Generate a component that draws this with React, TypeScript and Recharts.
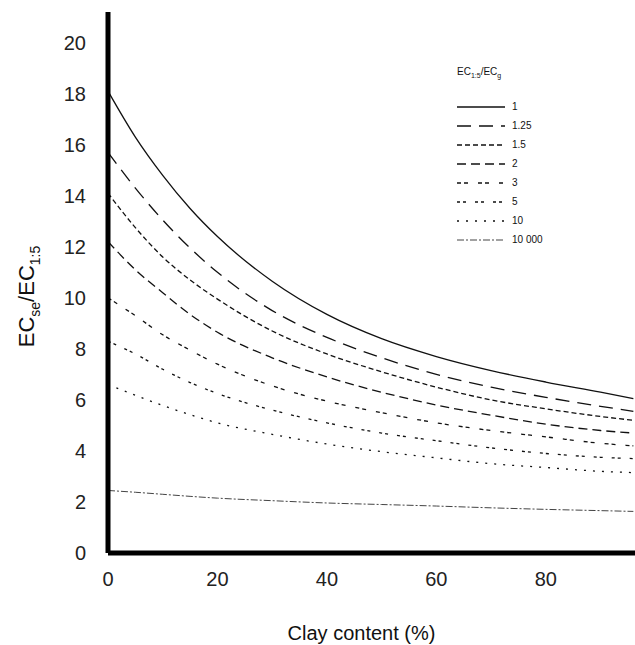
import { LineChart, Line, XAxis, YAxis } from "recharts"

// clay content (%) at which the curves were read
const clay = [0, 5, 10, 15, 20, 30, 40, 50, 60, 70, 80, 90, 96]

// one curve per EC1:5/ECg ratio
const ratioLabels = ["1", "1.25", "1.5", "2", "3", "5", "10", "10 000"]
const r1 = [18.1, 16.3, 14.8, 13.5, 12.4, 10.65, 9.35, 8.4, 7.7, 7.15, 6.7, 6.3, 6.05]
const r125 = [15.7, 14.3, 13.05, 11.95, 11.0, 9.5, 8.45, 7.65, 7.0, 6.5, 6.1, 5.75, 5.55]
const r15 = [14.1, 12.75, 11.6, 10.7, 9.95, 8.7, 7.8, 7.1, 6.5, 6.0, 5.65, 5.35, 5.2]
const r2 = [12.2, 11.1, 10.2, 9.35, 8.65, 7.65, 6.9, 6.3, 5.8, 5.4, 5.05, 4.8, 4.7]
const r3 = [10.0, 9.3, 8.55, 7.95, 7.4, 6.55, 5.95, 5.5, 5.1, 4.8, 4.55, 4.3, 4.2]
const r5 = [8.3, 7.8, 7.2, 6.68, 6.25, 5.6, 5.1, 4.7, 4.4, 4.12, 3.9, 3.75, 3.7]
const r10 = [6.6, 6.18, 5.78, 5.42, 5.1, 4.65, 4.27, 3.97, 3.73, 3.5, 3.35, 3.2, 3.15]
const r10000 = [2.45, 2.38, 2.3, 2.22, 2.15, 2.05, 1.96, 1.9, 1.84, 1.77, 1.71, 1.66, 1.63]

const xTicks = [0, 20, 40, 60, 80]
const yTicks = [0, 2, 4, 6, 8, 10, 12, 14, 16, 18, 20]

const seriesValues = [r1, r125, r15, r2, r3, r5, r10, r10000]
const keys = ["r1", "r125", "r15", "r2", "r3", "r5", "r10", "r10000"]
const dashes = ["", "14 8", "5 3", "9 5", "4 3 4 10", "3 3 3 9", "2 7", "7 2 2 2"]

const data = clay.map((c, i) => {
    const row: Record<string, number> = { clay: c }
    keys.forEach((k, j) => { row[k] = seriesValues[j][i] })
    return row
})

const FONT = "'Liberation Sans', Arial, sans-serif"

const YLabel = ({ viewBox }: any) => {
    const cx = 34
    const cy = viewBox.y + viewBox.height / 2 + 14
    return (
        <text transform={`translate(${cx},${cy}) rotate(-90)`} textAnchor="middle" fontFamily={FONT} fontSize={22} fill="#111">
            EC<tspan fontSize={14} dy={6}>se</tspan><tspan dy={-6}>/EC</tspan><tspan fontSize={14} dy={6}>1:5</tspan>
        </text>
    )
}

const XLabel = ({ viewBox }: any) => (
    <text x={viewBox.x + viewBox.width / 2 - 10} y={viewBox.y + 87} textAnchor="middle" fontFamily={FONT} fontSize={20} fill="#111">
        Clay content (%)
    </text>
)

const RatioLegend = () => (
    <div style={{ position: "absolute", top: 66, left: 457, fontFamily: FONT, fontSize: 10, color: "#111" }}>
        <div style={{ marginBottom: 18 }}>
            EC<sub style={{ fontSize: 7 }}>1:5</sub>/EC<sub style={{ fontSize: 7 }}>g</sub>
        </div>
        {ratioLabels.map((lab, i) => (
            <div key={lab} style={{ display: "flex", alignItems: "center", height: 19 }}>
                <svg width={48} height={6}>
                    <line x1={0} y1={3} x2={48} y2={3} stroke={i === 7 ? "#444" : "#111"} strokeWidth={i === 7 ? 1 : 1.3} strokeDasharray={dashes[i] || undefined} />
                </svg>
                <span style={{ marginLeft: 7 }}>{lab}</span>
            </div>
        ))}
    </div>
)

export default function App() {
    return (
        <div style={{ position: "absolute", left: 0, top: 0, width: 635, height: 645, background: "#fff" }}>
            <LineChart width={635} height={645} data={data} margin={{ top: 12, right: 0, bottom: 32, left: 48 }}>
                <XAxis
                    dataKey="clay"
                    type="number"
                    domain={[0, 96.3]}
                    ticks={xTicks}
                    allowDataOverflow
                    height={60}
                    tickLine={false}
                    tickSize={0}
                    tickMargin={19}
                    axisLine={{ stroke: "#000", strokeWidth: 5 }}
                    tick={{ fontFamily: FONT, fontSize: 20, fill: "#222" }}
                    label={<XLabel />}
                />
                <YAxis
                    type="number"
                    domain={[0, 21.2]}
                    ticks={yTicks}
                    allowDataOverflow
                    width={60}
                    tickLine={false}
                    tickSize={0}
                    tickMargin={22}
                    axisLine={{ stroke: "#000", strokeWidth: 5 }}
                    tick={{ fontFamily: FONT, fontSize: 20, fill: "#222" }}
                    label={<YLabel />}
                />
                {keys.map((k, i) => (
                    <Line
                        key={k}
                        dataKey={k}
                        name={ratioLabels[i]}
                        type="monotone"
                        stroke={i === 7 ? "#444" : "#111"}
                        strokeWidth={i === 7 ? 1 : 1.3}
                        strokeDasharray={dashes[i] || undefined}
                        dot={false}
                        isAnimationActive={false}
                    />
                ))}
            </LineChart>
            <RatioLegend />
        </div>
    )
}
